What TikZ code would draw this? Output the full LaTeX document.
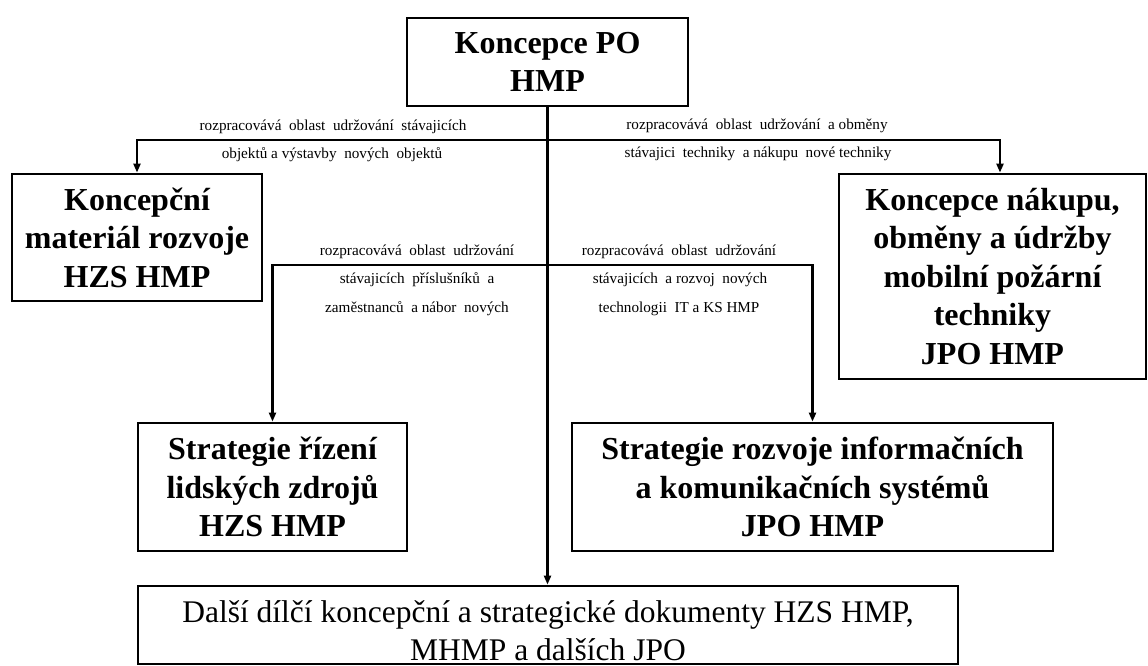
\documentclass[tikz,border=0pt]{standalone}
\usepackage{fontspec}
\setmainfont{Liberation Serif}
\usetikzlibrary{arrows.meta}
\begin{document}
\begin{tikzpicture}[x=1pt,y=-1pt,
  box/.style={draw, line width=2.8pt, align=center, inner sep=0pt,
    font=\fontsize{32}{38.5}\selectfont\bfseries},
  conn/.style={line width=2.2pt, -{Triangle[length=9pt,width=7pt]}},
  lbl/.style={font=\fontsize{15.2}{17}\selectfont, inner sep=0pt}]
\useasboundingbox (0,0) rectangle (1148,666);
\node[box, minimum width=281pt, minimum height=88pt] (top) at (547.5,62) {Koncepce PO\\HMP};
\node[box, minimum width=250pt, minimum height=127pt] (mat) at (137,237.5) {Koncepční\\materiál rozvoje\\HZS HMP};
\node[box, minimum width=307pt, minimum height=205pt] (tech) at (992.5,276.5) {Koncepce nákupu,\\obměny a údržby\\mobilní požární\\techniky\\JPO HMP};
\node[box, minimum width=269pt, minimum height=128pt] (hr) at (272.5,487) {Strategie řízení\\lidských zdrojů\\HZS HMP};
\node[box, minimum width=481pt, minimum height=128pt] (ict) at (812.5,487) {Strategie rozvoje informačních\\a komunikačních systémů\\JPO HMP};
\node[box, minimum width=820pt, minimum height=78pt] (other) at (548,625) {};
\node[align=center, inner sep=0pt, font=\fontsize{31.5}{38}\selectfont] (othertext) at (548,631) {Další dílčí koncepční a strategické dokumenty HZS HMP,\\MHMP a dalších JPO};
\coordinate (j1) at (547.5,140);
\coordinate (j2) at (547.5,265);
\draw[conn] (top.south) -- (top.south |- other.north);
\draw[conn] (j1) -| (mat.north);
\draw[conn] (j1) -| ([xshift=7.5pt]tech.north);
\draw[conn] (j2) -| (hr.north);
\draw[conn] (j2) -| (ict.north);
\node[lbl] (l1a) at (333,127) {rozpracovává \ oblast \ udržování \ stávajicích};
\node[lbl] (l1b) at (332,155) {objektů a výstavby \ nových \ objektů};
\node[lbl] (r1a) at (757,126) {rozpracovává \ oblast \ udržování \ a obměny};
\node[lbl] (r1b) at (758,154) {stávajici \ techniky \ a nákupu \ nové techniky};
\node[lbl] (l2a) at (417,252) {rozpracovává \ oblast \ udržování};
\node[lbl] (l2b) at (417,280) {stávajicích \ příslušníků \ a};
\node[lbl] (l2c) at (417,309) {zaměstnanců \ a nábor \ nových};
\node[lbl] (r2a) at (679,252) {rozpracovává \ oblast \ udržování};
\node[lbl] (r2b) at (680,280) {stávajicích \ a rozvoj \ nových};
\node[lbl] (r2c) at (679,309) {technologii \ IT a KS HMP};
\end{tikzpicture}
\end{document}
